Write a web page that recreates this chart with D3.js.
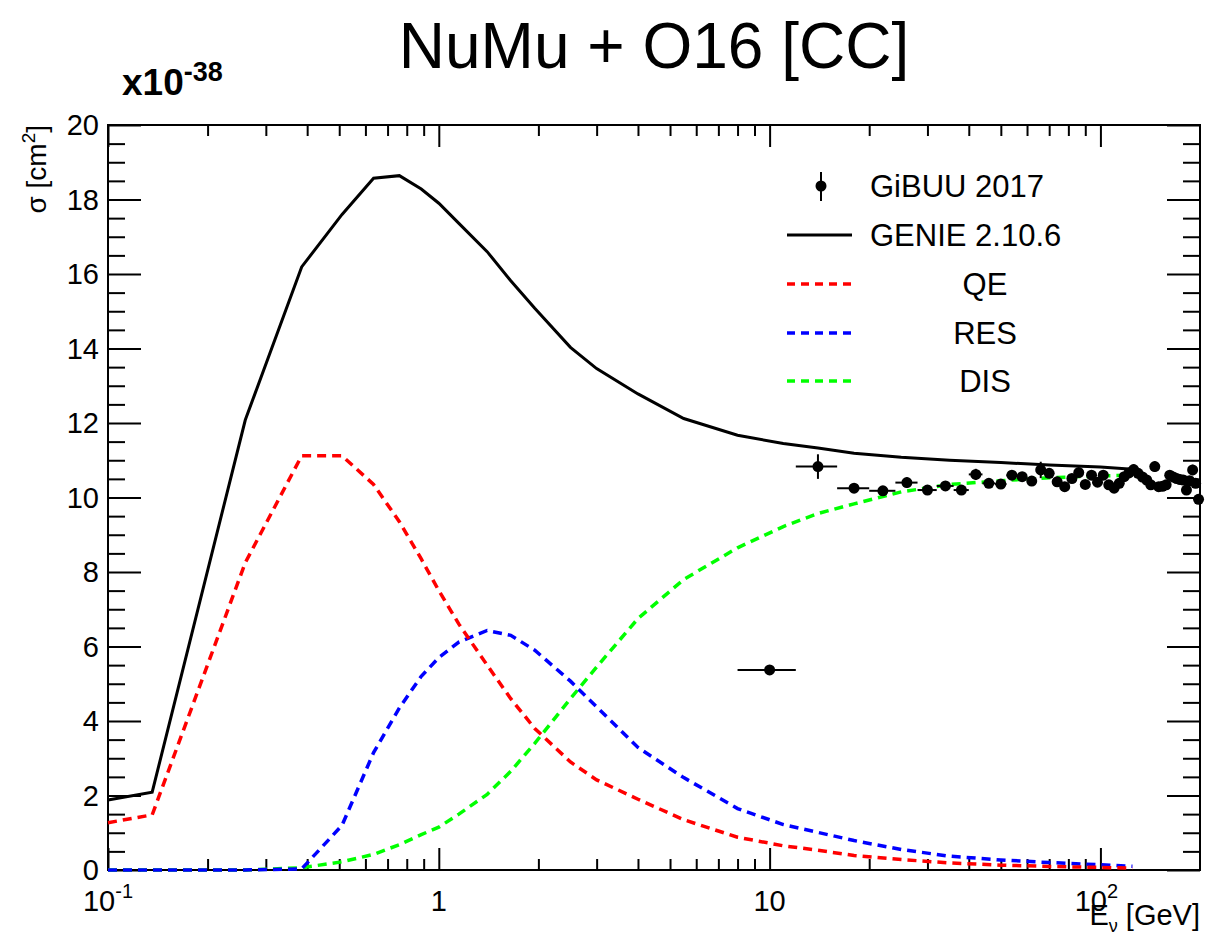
<!DOCTYPE html>
<html>
<head>
<meta charset="utf-8">
<script src="https://cdn.jsdelivr.net/npm/d3@7"></script>
<style>
  body { margin: 0; background: #fff; }
  text { font-family: "Liberation Sans", Arial, Helvetica, sans-serif; fill: #000; }
</style>
</head>
<body>
<div class="chart"></div>
<script>
// GENIE spline knots (GeV) and cross sections (x1e-38 cm^2)
var energy      = [0.1, 0.136, 0.26, 0.385, 0.51, 0.635, 0.76, 0.885, 1.0, 1.15, 1.4, 1.65, 1.95, 2.5, 3.0, 4.0, 5.5, 8.0, 11, 14, 18, 25, 35, 50, 70, 100, 125];
var genieTotal  = [1.88, 2.09, 12.08, 16.19, 17.6, 18.57, 18.64, 18.28, 17.9, 17.36, 16.6, 15.82, 15.08, 14.03, 13.46, 12.78, 12.12, 11.67, 11.45, 11.33, 11.19, 11.08, 11.0, 10.94, 10.87, 10.82, 10.76];
var genieQE     = [1.27, 1.48, 8.25, 11.12, 11.12, 10.35, 9.35, 8.35, 7.5, 6.6, 5.5, 4.6, 3.8, 2.9, 2.42, 1.9, 1.35, 0.88, 0.65, 0.53, 0.39, 0.28, 0.19, 0.13, 0.095, 0.07, 0.05];
var genieRES    = [0, 0, 0, 0.03, 1.2, 3.15, 4.35, 5.2, 5.7, 6.12, 6.43, 6.3, 5.9, 5.07, 4.38, 3.29, 2.48, 1.65, 1.22, 1.01, 0.79, 0.55, 0.37, 0.27, 0.2, 0.14, 0.1];
var genieDIS    = [0, 0, 0, 0.06, 0.22, 0.42, 0.68, 0.95, 1.15, 1.5, 2.03, 2.65, 3.4, 4.6, 5.45, 6.75, 7.8, 8.65, 9.22, 9.57, 9.83, 10.15, 10.35, 10.45, 10.53, 10.58, 10.6];

// GiBUU 2017 points
var gibuuE     = [10, 14, 18, 22, 26, 30, 34, 38, 42, 46, 50, 54, 58, 62, 66, 70, 74, 78, 82, 86, 90, 94, 98, 102, 106, 110, 114, 118, 122, 126, 130, 134, 138, 142, 146, 150, 154, 158, 162, 166, 170, 174, 178, 182, 186, 190, 194, 198];
var gibuuXsec  = [5.37, 10.83, 10.25, 10.18, 10.40, 10.20, 10.31, 10.20, 10.62, 10.38, 10.36, 10.60, 10.56, 10.44, 10.74, 10.65, 10.42, 10.29, 10.51, 10.67, 10.35, 10.60, 10.41, 10.60, 10.34, 10.25, 10.38, 10.56, 10.66, 10.75, 10.65, 10.55, 10.47, 10.34, 10.83, 10.29, 10.30, 10.34, 10.60, 10.55, 10.51, 10.48, 10.47, 10.20, 10.45, 10.74, 10.38, 9.95];
var gibuuErr   = [0.08, 0.33, 0.1, 0.1, 0.14, 0.1, 0.12, 0.1, 0.15, 0.1, 0.1, 0.12, 0.1, 0.1, 0.22, 0.12, 0.1, 0.1, 0.12, 0.12, 0.1, 0.12, 0.1, 0.12, 0.1, 0.1, 0.1, 0.12, 0.12, 0.14, 0.12, 0.12, 0.1, 0.1, 0.14, 0.1, 0.1, 0.1, 0.12, 0.1, 0.1, 0.1, 0.1, 0.1, 0.1, 0.14, 0.1, 0.1];
var binHalfWidth = 2;

var yTicks = [0, 2, 4, 6, 8, 10, 12, 14, 16, 18, 20];
var xDecades = [0.1, 1, 10, 100];
var xDecadeLabels = [["10", "-1"], ["1", ""], ["10", ""], ["10", "2"]];
var legendLabels = ["GiBUU 2017", "GENIE 2.10.6", "QE", "RES", "DIS"];

var options = {
    width: 1206,
    height: 937,
    left: 108,
    right: 1200,
    top: 125,
    bottom: 870,
    dash: "9,6"
};

var svg = d3.select(".chart").append("svg")
    .attr("width", options.width)
    .attr("height", options.height);

var xScale = d3.scaleLog()
    .domain([0.1, 200])
    .range([options.left, options.right]);

var yScale = d3.scaleLinear()
    .domain([0, 20])
    .range([options.bottom, options.top]);

// minor ticks: 2..9 in every decade
var xMinor = [];
xDecades.forEach(function (d) {
    for (var k = 2; k <= 9; k++) {
        if (d * k < 200) xMinor.push(d * k);
    }
});
var yMinor = d3.range(0, 20.01, 0.5).filter(function (v) { return v % 2 !== 0; });

function drawAxis(axis, translate) {
    var g = svg.append("g")
        .attr("transform", translate)
        .call(axis);
    g.select(".domain").remove();
    g.selectAll("line").attr("stroke", "#000").attr("stroke-width", 2);
    return g;
}

// bottom & top
drawAxis(d3.axisBottom(xScale).tickValues(xDecades).tickSize(-22).tickSizeOuter(0).tickFormat(""), "translate(0," + options.bottom + ")");
drawAxis(d3.axisBottom(xScale).tickValues(xMinor).tickSize(-11).tickSizeOuter(0).tickFormat(""), "translate(0," + options.bottom + ")");
drawAxis(d3.axisTop(xScale).tickValues(xDecades).tickSize(-22).tickSizeOuter(0).tickFormat(""), "translate(0," + options.top + ")");
drawAxis(d3.axisTop(xScale).tickValues(xMinor).tickSize(-11).tickSizeOuter(0).tickFormat(""), "translate(0," + options.top + ")");
// left & right
drawAxis(d3.axisLeft(yScale).tickValues(yTicks).tickSize(-33).tickSizeOuter(0).tickFormat(""), "translate(" + options.left + ",0)");
drawAxis(d3.axisLeft(yScale).tickValues(yMinor).tickSize(-17).tickSizeOuter(0).tickFormat(""), "translate(" + options.left + ",0)");
drawAxis(d3.axisRight(yScale).tickValues(yTicks).tickSize(-33).tickSizeOuter(0).tickFormat(""), "translate(" + options.right + ",0)");
drawAxis(d3.axisRight(yScale).tickValues(yMinor).tickSize(-17).tickSizeOuter(0).tickFormat(""), "translate(" + options.right + ",0)");

// frame
svg.append("rect")
    .attr("x", options.left)
    .attr("y", options.top)
    .attr("width", options.right - options.left)
    .attr("height", options.bottom - options.top)
    .attr("fill", "none")
    .attr("stroke", "#000")
    .attr("stroke-width", 2);

// y tick labels
svg.selectAll(".ylab").data(yTicks).enter().append("text")
    .attr("class", "ylab")
    .attr("x", 99)
    .attr("y", function (d) { return yScale(d) + 10; })
    .attr("text-anchor", "end")
    .attr("font-size", "29px")
    .text(function (d) { return d; });

// x tick labels
xDecades.forEach(function (d, i) {
    var t = svg.append("text")
        .attr("x", xScale(d) - (xDecadeLabels[i][1] === "2" ? 4 : 0))
        .attr("y", 911)
        .attr("text-anchor", "middle")
        .attr("font-size", "29px");
    t.append("tspan").text(xDecadeLabels[i][0]);
    if (xDecadeLabels[i][1] !== "") {
        t.append("tspan")
            .attr("dy", -13)
            .attr("font-size", "20px")
            .text(xDecadeLabels[i][1]);
    }
});

// axis titles
var xt = svg.append("text")
    .attr("x", options.right)
    .attr("y", 925)
    .attr("text-anchor", "end")
    .attr("font-size", "29px");
xt.append("tspan").text("E");
xt.append("tspan").attr("dy", 7).attr("font-size", "18px").text("\u03bd");
xt.append("tspan").attr("dy", -7).text(" [GeV]");

var yt = svg.append("text")
    .attr("transform", "translate(46," + options.top + ") rotate(-90)")
    .attr("text-anchor", "end")
    .attr("font-size", "28px");
yt.append("tspan").text("\u03c3 [cm");
yt.append("tspan").attr("dy", -11).attr("font-size", "19px").text("2");
yt.append("tspan").attr("dy", 11).text("]");

// exponent
var ex = svg.append("text")
    .attr("x", 122)
    .attr("y", 95)
    .attr("font-weight", "bold")
    .attr("font-size", "37px");
ex.append("tspan").text("x10");
ex.append("tspan").attr("dy", -14).attr("font-size", "27px").text("-38");

// title
svg.append("text")
    .attr("x", 654)
    .attr("y", 68)
    .attr("text-anchor", "middle")
    .attr("font-size", "64px")
    .text("NuMu + O16 [CC]");

// curves
var line = d3.line()
    .x(function (d) { return xScale(d[0]); })
    .y(function (d) { return yScale(d[1]); });

var curves = [
    { values: genieDIS, color: "#00ff00", dash: options.dash, width: 3.5 },
    { values: genieRES, color: "#0000ff", dash: options.dash, width: 3.5 },
    { values: genieQE, color: "#ff0000", dash: options.dash, width: 3.5 },
    { values: genieTotal, color: "#000000", dash: null, width: 3 }
];

var plot = svg.append("g");

curves.forEach(function (c) {
    var pts = energy.map(function (e, i) { return [e, c.values[i]]; });
    plot.append("path")
        .attr("d", line(pts))
        .attr("fill", "none")
        .attr("stroke", c.color)
        .attr("stroke-width", c.width)
        .attr("stroke-dasharray", c.dash);
});

// GiBUU points
var pts = plot.selectAll(".pt").data(gibuuE).enter().append("g").attr("class", "pt");
pts.append("line")
    .attr("x1", function (d) { return xScale(d - binHalfWidth); })
    .attr("x2", function (d) { return xScale(Math.min(d + binHalfWidth, 200)); })
    .attr("y1", function (d, i) { return yScale(gibuuXsec[i]); })
    .attr("y2", function (d, i) { return yScale(gibuuXsec[i]); })
    .attr("stroke", "#000").attr("stroke-width", 2);
pts.append("line")
    .attr("x1", function (d) { return xScale(d); })
    .attr("x2", function (d) { return xScale(d); })
    .attr("y1", function (d, i) { return yScale(gibuuXsec[i] - gibuuErr[i]); })
    .attr("y2", function (d, i) { return yScale(gibuuXsec[i] + gibuuErr[i]); })
    .attr("stroke", "#000").attr("stroke-width", 2);
pts.append("circle")
    .attr("cx", function (d) { return xScale(d); })
    .attr("cy", function (d, i) { return yScale(gibuuXsec[i]); })
    .attr("r", 5.5)
    .attr("fill", "#000");

// legend
var legendY = [186, 235, 284, 333, 381];
var legend = svg.append("g");
legend.append("line")
    .attr("x1", 821).attr("x2", 821)
    .attr("y1", legendY[0] - 14).attr("y2", legendY[0] + 15)
    .attr("stroke", "#000").attr("stroke-width", 2);
legend.append("circle")
    .attr("cx", 821).attr("cy", legendY[0]).attr("r", 5.5).attr("fill", "#000");

[null, "#000000", "#ff0000", "#0000ff", "#00ff00"].forEach(function (col, i) {
    if (!col) return;
    legend.append("line")
        .attr("x1", 787).attr("x2", 852)
        .attr("y1", legendY[i]).attr("y2", legendY[i])
        .attr("stroke", col)
        .attr("stroke-width", i > 1 ? 3.5 : 3)
        .attr("stroke-dasharray", i > 1 ? "8,6" : null);
});

legendLabels.forEach(function (lab, i) {
    legend.append("text")
        .attr("x", i < 2 ? 870 : 985)
        .attr("y", legendY[i] + 11)
        .attr("text-anchor", i < 2 ? "start" : "middle")
        .attr("font-size", "31px")
        .text(lab);
});
</script>
</body>
</html>
